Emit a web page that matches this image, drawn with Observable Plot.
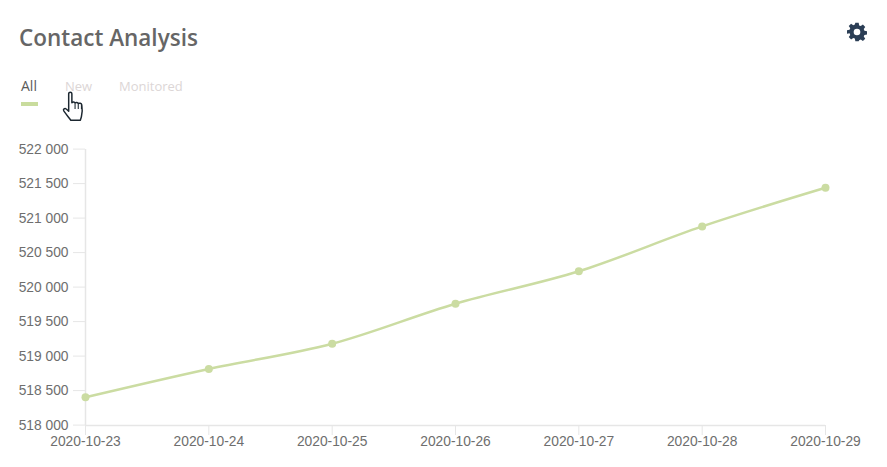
<!DOCTYPE html>
<html>
<head>
<meta charset="utf-8">
<script src="https://cdn.jsdelivr.net/npm/d3@7"></script>
<script src="https://cdn.jsdelivr.net/npm/@observablehq/plot@0.6"></script>
<style>
html,body{margin:0;padding:0;background:#fff;overflow:hidden}
#wrap{position:relative;width:887px;height:467px}
#head{position:relative;height:130px;font-family:"Open Sans",sans-serif}
#title{position:absolute;left:19px;top:22px;font-size:22.5px;font-weight:600;color:#666;line-height:32px;white-space:nowrap}
.tab{position:absolute;top:77px;font-size:13px;line-height:18px;color:#dcd6d6;white-space:nowrap}
#bar{position:absolute;left:21px;top:102px;width:17px;height:4px;background:#c9dc9d}
#gear{position:absolute;left:847px;top:22px}
#hand{position:absolute;left:61px;top:91px}
#chart svg{display:block}
</style>
</head>
<body>
<div id="wrap">
<div id="head">
  <div id="title">Contact Analysis</div>
  <div class="tab" style="left:21px;color:#5a5a5a;font-size:14px">All</div>
  <div class="tab" style="left:65px">New</div>
  <div class="tab" style="left:119px">Monitored</div>
  <div id="bar"></div>
  <svg id="gear" width="20" height="20" viewBox="0 0 24 24"><path fill="#2b3e55" fill-rule="evenodd" d="M10 1h4l.6 3.1 1.9.8L19.100 3.100l2.800 2.800-1.800 2.600.8 1.900 3.100.6v4l-3.100.6-.8 1.900 1.800 2.600-2.800 2.800-2.600-1.800-1.900.8L14 23h-4l-.6-3.100-1.900-.8-2.600 1.800-2.800-2.800 1.800-2.600-.8-1.900L0 14v-4l3.100-.6.8-1.900-1.800-2.600 2.800-2.800 2.600 1.800 1.900-.8zM12 8a4 4 0 1 0 0 8a4 4 0 1 0 0-8z"/></svg>
  <svg id="hand" width="26" height="34" viewBox="0 0 24 32"><path fill="#fff" stroke="#1c2730" stroke-width="1.400" stroke-linejoin="round" d="M7 2.500c0-1.800 3-1.800 3 0V11c1-1 2.500-.8 3 .3 1-.8 2.500-.5 3 .5 1-.7 3-.3 3.300 1.200.5 3 .5 8-.3 11-.5 2-1 3-1 3.500H9c-1-1.500-4-5-6.500-8.500-1.200-1.800.8-3.300 2.200-2L7 19z"/><path fill="none" stroke="#1c2730" stroke-width="1" d="M13 11.500V17M16 12V17M19 13V17"/></svg>
</div>
<div id="chart"></div>
</div>
<script>
const dates = ["2020-10-23","2020-10-24","2020-10-25","2020-10-26","2020-10-27","2020-10-28","2020-10-29"];
const values = [518410,518820,519185,519765,520235,520885,521445];
const yTicks = [518000,518500,519000,519500,520000,520500,521000,521500,522000];
const rows = dates.map((d,i)=>({date:d,value:values[i]}));
const green = "#cbdca2";
const axisColor = "#e6e6e6";
const labelColor = "#6e6e6e";
const plot = Plot.plot({
  width:887,height:337,
  marginLeft:85,marginRight:62,marginTop:19,marginBottom:42,
  style:{fontFamily:'"Liberation Sans",Arial,sans-serif',fontSize:"13.8px",color:labelColor,background:"#fff",overflow:"visible"},
  x:{type:"point",domain:dates,padding:0,round:false,label:null},
  y:{domain:[518000,522000],label:null},
  marks:[
    Plot.ruleX([dates[0]],{stroke:axisColor,strokeWidth:1.5}),
    Plot.ruleY([518000],{stroke:axisColor,strokeWidth:1.5}),
    Plot.axisY({ticks:yTicks,tickFormat:d=>d3.format(",")(d).replace(/,/g," "),tickSize:12,tickPadding:5,stroke:axisColor,fill:labelColor,strokeOpacity:1,label:null,dy:-0.4,fontSize:13.8}),
    Plot.axisX({tickSize:10,tickPadding:1,stroke:axisColor,fill:labelColor,strokeOpacity:1,label:null,fontSize:13.8}),
    Plot.line(rows,{x:"date",y:"value",stroke:green,strokeWidth:2.5,curve:"monotone-x"}),
    Plot.dot(rows,{x:"date",y:"value",fill:green,r:4})
  ]
});
document.getElementById("chart").append(plot);
</script>
</body>
</html>
